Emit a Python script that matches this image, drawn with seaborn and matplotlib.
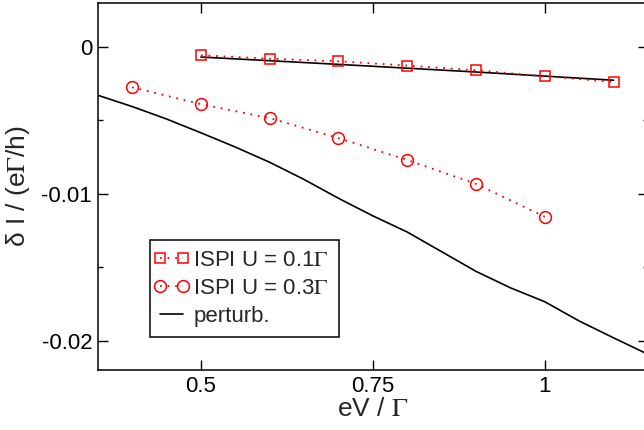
import numpy as np
import pandas as pd
import seaborn as sns
import matplotlib
matplotlib.use("Agg")
import matplotlib.pyplot as plt
from matplotlib.ticker import FixedLocator
from matplotlib.legend_handler import HandlerLine2D

# ISPI, U = 0.1 Gamma
x_u01 = [0.5, 0.6, 0.7, 0.8, 0.9, 1.0, 1.1]
y_u01 = [-0.00056, -0.00079, -0.00097, -0.00126, -0.00158, -0.00199, -0.00238]

# ISPI, U = 0.3 Gamma
x_u03 = [0.4, 0.5, 0.6, 0.7, 0.8, 0.9, 1.0]
y_u03 = [-0.00274, -0.00389, -0.00484, -0.00620, -0.00769, -0.00932, -0.01156]

# perturbation theory, U = 0.1 Gamma
x_pt01 = [0.5, 0.7, 0.9, 1.1]
y_pt01 = [-0.00068, -0.00118, -0.00170, -0.00226]

# perturbation theory, U = 0.3 Gamma
x_pt03 = [0.35, 0.40, 0.45, 0.50, 0.55, 0.60, 0.65, 0.70, 0.75,
          0.80, 0.85, 0.90, 0.95, 1.00, 1.05, 1.10, 1.15]
y_pt03 = [-0.00328, -0.00405, -0.00490, -0.00584, -0.00681, -0.00785,
          -0.00902, -0.01030, -0.01150, -0.01260, -0.01394, -0.01528,
          -0.01640, -0.01735, -0.01866, -0.01981, -0.02093]

sns.set_theme(style="ticks")
plt.rcParams['font.family'] = ['Liberation Sans', 'DejaVu Sans']
plt.rcParams['mathtext.fontset'] = 'stix'
plt.rcParams['legend.numpoints'] = 2

fig = plt.figure(figsize=(6.44, 4.30), dpi=100)
ax = fig.add_axes([0.1517, 0.1395, 0.8545, 0.8535])

red = '#ff0000'
dots = (0, (1, 3.2))

sns.lineplot(x=x_pt03, y=y_pt03, ax=ax, color='black', lw=1.2,
             label='perturb.', zorder=2)
sns.lineplot(x=x_pt01, y=y_pt01, ax=ax, color='black', lw=1.2, zorder=2)
sns.lineplot(x=x_u01, y=y_u01, ax=ax, color=red, lw=1.3, linestyle=dots,
             marker='s', markersize=7, mfc='none', mec=red, mew=1.1,
             label=r'ISPI U = 0.1$\Gamma$', zorder=3)
sns.lineplot(x=x_u03, y=y_u03, ax=ax, color=red, lw=1.3, linestyle=dots,
             marker='o', markersize=8.5, mfc='none', mec=red, mew=1.1,
             label=r'ISPI U = 0.3$\Gamma$', zorder=3)

ax.set_xlim(0.35, 1.15)
ax.set_ylim(-0.022, 0.003)
ax.xaxis.set_major_locator(FixedLocator([0.5, 0.75, 1.0]))
ax.set_xticklabels(['0.5', '0.75', '1'])
ax.yaxis.set_major_locator(FixedLocator([0.0, -0.01, -0.02]))
ax.set_yticklabels(['0', '-0.01', '-0.02'])
ax.yaxis.set_minor_locator(FixedLocator([-0.005, -0.015]))

ax.tick_params(which='both', direction='in', top=True, right=True,
               labelsize=16, colors='black', width=1.0)
ax.tick_params(which='major', length=7.2, pad=4)
ax.tick_params(which='minor', length=3.6)
for s in ax.spines.values():
    s.set_linewidth(1.1)
    s.set_color('black')

ax.set_xlabel(r'eV / $\Gamma$', fontsize=19, labelpad=0)
ax.set_ylabel(r'δ I / (e$\Gamma$/h)', fontsize=19, labelpad=7)

handles, labels = ax.get_legend_handles_labels()
order = [1, 2, 0]
hs = [handles[i] for i in order]
# markers sit right at both ends of the legend line, as in xmgrace
hmap = {h: HandlerLine2D(marker_pad=0.0) for h in hs}
leg = ax.legend(hs, [labels[i] for i in order], handler_map=hmap,
                loc='lower left', bbox_to_anchor=(0.095, 0.09),
                fontsize=16, frameon=True, fancybox=False, framealpha=1,
                edgecolor='black', handlelength=1.05, handletextpad=0.45,
                borderpad=0.45, labelspacing=0.32, borderaxespad=0)
leg.get_frame().set_linewidth(1.1)

fig.savefig('out.png', dpi=100)
